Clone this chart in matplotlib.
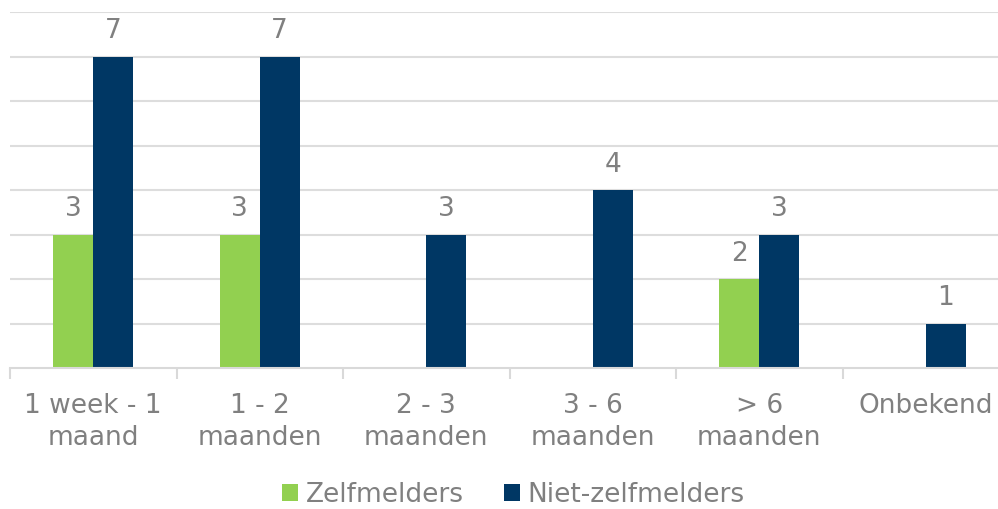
import matplotlib
matplotlib.use("Agg")
import matplotlib.pyplot as plt
import numpy as np

categories = ["1 week - 1\nmaand", "1 - 2\nmaanden", "2 - 3\nmaanden",
              "3 - 6\nmaanden", "> 6\nmaanden", "Onbekend"]
zelfmelders = [3, 3, 0, 0, 2, 0]
niet_zelfmelders = [7, 7, 3, 4, 3, 1]

green = "#92D050"
navy = "#003764"
grey = "#808080"

plt.rcParams['font.family'] = ['DejaVu Sans']

fig = plt.figure(figsize=(9.98, 5.09), dpi=100)
ax = fig.add_axes([10 / 998, 1 - 368 / 509, 999 / 998, 356 / 509])

x = np.arange(len(categories))
w = 0.24
b1 = ax.bar(x - w / 2, zelfmelders, w, color=green, label="Zelfmelders")
b2 = ax.bar(x + w / 2, niet_zelfmelders, w, color=navy, label="Niet-zelfmelders")

for bars, vals in ((b1, zelfmelders), (b2, niet_zelfmelders)):
    for r, v in zip(bars, vals):
        if v:
            ax.text(r.get_x() + r.get_width() / 2, v + 0.27, str(v), ha="center",
                    va="bottom", fontsize=19, color=grey)

ax.set_xlim(-0.5, len(categories) - 0.5)
ax.set_ylim(0, 8)
ax.set_yticks(range(1, 9))
ax.yaxis.grid(True, color="#DDDDDD", linewidth=1.5)
ax.set_axisbelow(True)
ax.tick_params(axis="y", left=False, labelleft=False)
for s in ["top", "right", "left"]:
    ax.spines[s].set_visible(False)
ax.spines["bottom"].set_color("#D9D9D9")
ax.spines["bottom"].set_linewidth(1.5)

ax.set_xticks(np.arange(len(categories) + 1) - 0.5, minor=True)
ax.tick_params(axis="x", which="minor", length=8, color="#D9D9D9", width=1.5)
ax.set_xticks(x)
ax.set_xticklabels(categories, fontsize=19, color=grey, linespacing=1.3)
ax.tick_params(axis="x", which="major", length=0, pad=18)

leg = fig.legend(loc="center", bbox_to_anchor=(0.5145, 1 - 495 / 509), ncol=2,
                 frameon=False, fontsize=19, handlelength=0.6, handleheight=0.6,
                 handletextpad=0.3, columnspacing=1.5)
for t in leg.get_texts():
    t.set_color(grey)

fig.savefig("out.png", dpi=100)
